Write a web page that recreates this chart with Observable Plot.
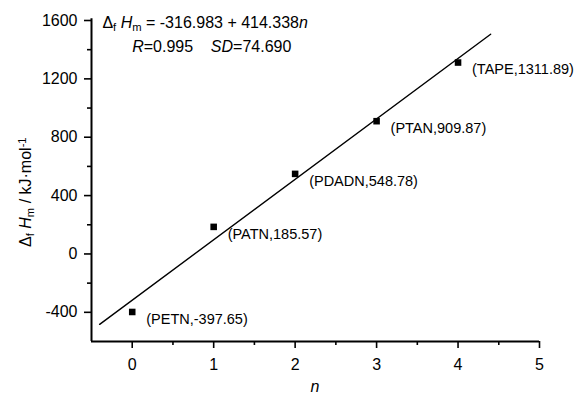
<!DOCTYPE html>
<html><head><meta charset="utf-8">
<script src="https://cdn.jsdelivr.net/npm/d3@7"></script>
<script src="https://cdn.jsdelivr.net/npm/@observablehq/plot@0.6"></script>
<style>
body{margin:0;background:#fff;}
</style></head>
<body><div id="chart"></div>
<script>
const names = ["PETN","PATN","PDADN","PTAN","TAPE"];
const nValues = [0,1,2,3,4];
const dHf = [-397.65,185.57,548.78,909.87,1311.89];
const fitN = [-0.4, 4.4];
const fitH = [-482.7, 1506.1];
const xTicks = [0,1,2,3,4,5];
const xMinor = [0.5,1.5,2.5,3.5,4.5];
const yTicks = [-400,0,400,800,1200,1600];
const yMinor = [-200,200,600,1000,1400];
const equation = "= -316.983 + 414.338";
const stats = ["R","=0.995","SD","=74.690"];

const pts = names.map((d,i)=>({name:d,n:nValues[i],h:dHf[i],label:`(${d},${dHf[i].toFixed(2)})`}));
const fit = fitN.map((d,i)=>({n:d,h:fitH[i]}));

const FS = 16;
const FONT = '"Liberation Sans",Arial,sans-serif';
const plot = Plot.plot({
  width:578, height:396,
  marginLeft:91, marginRight:39, marginTop:20, marginBottom:55,
  style:{fontSize:FS+"px", fontFamily:FONT, color:"#000", background:"#fff", overflow:"visible"},
  x:{domain:[-0.5,5]},
  y:{domain:[-600,1600]},
  marks:[
    Plot.axisX({ticks:xTicks, tickSize:7, tickPadding:10, strokeWidth:1.6, label:null, fontSize:FS, tickFormat:d=>String(d)}),
    Plot.axisX({ticks:xMinor, tickSize:4, strokeWidth:1.6, text:null, label:null}),
    Plot.axisY({ticks:yTicks, tickSize:7, tickPadding:7, strokeWidth:1.6, label:null, fontSize:FS, tickFormat:d=>String(d)}),
    Plot.axisY({ticks:yMinor, tickSize:4, strokeWidth:1.6, text:null, label:null}),
    Plot.ruleX([-0.5],{y1:-600,y2:1612,stroke:"#000",strokeWidth:2}),
    Plot.ruleY([-600],{x1:-0.5,x2:5,stroke:"#000",strokeWidth:2}),
    Plot.line(fit,{x:"n",y:"h",stroke:"#000",strokeWidth:1.4}),
    Plot.dot(pts,{x:"n",y:"h",symbol:"square",r:3.7,fill:"#000",stroke:null}),
    Plot.text(pts,{x:"n",y:"h",text:"label",dx:14,dy:7,textAnchor:"start",fontSize:14.5,fill:"#000"})
  ]
});
document.getElementById("chart").appendChild(plot);

const svg = d3.select(plot);
const xs = plot.scale("x"), ys = plot.scale("y");

function rich(g, parts){
  parts.forEach(p=>{
    const t = g.append("tspan").text(p.t);
    if(p.i) t.attr("font-style","italic");
    if(p.sub) t.attr("baseline-shift","-25%").attr("font-size",FS*0.7);
    if(p.sup) t.attr("baseline-shift","45%").attr("font-size",FS*0.7);
  });
}

// equation
const eq = svg.append("text").attr("x", xs.apply(-0.36)).attr("y", ys.apply(1544)).attr("text-anchor","start").attr("font-size",FS).attr("fill","#000");
rich(eq,[{t:"Δ"},{t:"f",sub:true},{t:" "},{t:"H",i:true},{t:"m",sub:true},{t:" "+equation},{t:"n",i:true}]);
const st = svg.append("text").attr("x", xs.apply(0.005)).attr("y", ys.apply(1380)).attr("text-anchor","start").attr("font-size",FS).attr("fill","#000");
rich(st,[{t:stats[0],i:true},{t:stats[1]+"    "},{t:stats[2],i:true},{t:stats[3]}]);

// x label
svg.append("text").attr("x", xs.apply(2.25)).attr("y", 392).attr("text-anchor","middle").attr("font-style","italic").attr("font-size",FS).text("n");

// y label
const yl = svg.append("text").attr("transform",`translate(31,${ys.apply(420)}) rotate(-90)`).attr("text-anchor","middle").attr("font-size",FS).attr("fill","#000");
rich(yl,[{t:"Δ"},{t:"f",sub:true},{t:" "},{t:"H",i:true},{t:"m",sub:true},{t:" / kJ·mol"},{t:"-1",sup:true}]);
</script></body></html>
